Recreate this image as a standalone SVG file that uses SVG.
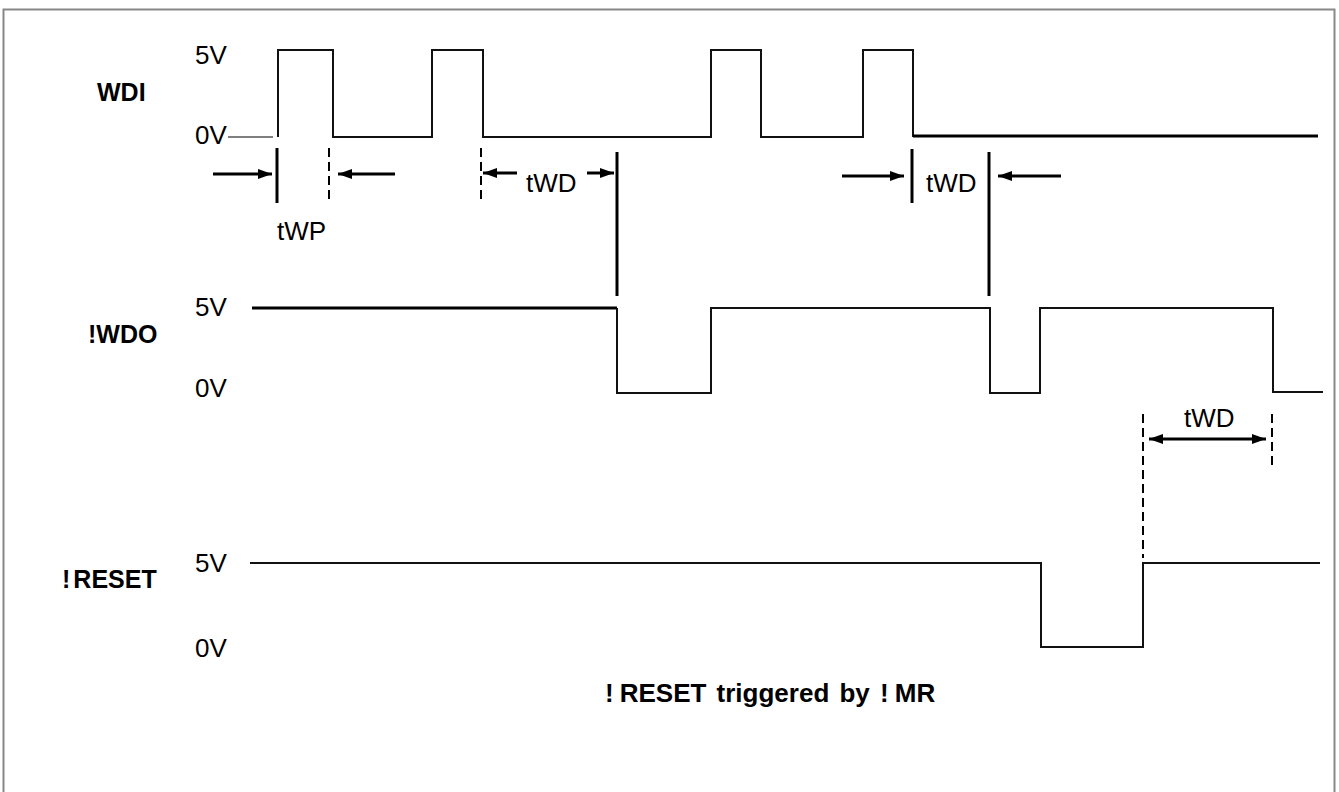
<svg xmlns="http://www.w3.org/2000/svg" width="1339" height="792" viewBox="0 0 1339 792">
<style>
.lbl{font-family:"Liberation Sans",Arial,sans-serif;font-size:26px;fill:#000}
.bold{font-family:"Liberation Sans",Arial,sans-serif;font-size:25px;font-weight:bold;fill:#000}
.sig{fill:none;stroke:#111;stroke-width:2;stroke-linejoin:miter}
.thick{fill:none;stroke:#000;stroke-width:3}
.bar{stroke:#000;stroke-width:3}
.dash{stroke:#000;stroke-width:2;stroke-dasharray:9 5}
.arr{stroke:#000;stroke-width:3;fill:none}
</style>
<defs>
<marker id="ah" viewBox="0 0 14 10" refX="14" refY="5" markerWidth="14" markerHeight="10" orient="auto-start-reverse" markerUnits="userSpaceOnUse">
<path d="M0,0 L14,5 L0,10 z" fill="#000"/>
</marker>
</defs>
<rect x="3.5" y="9.5" width="1331" height="800" fill="#fff" stroke="#888" stroke-width="2"/>

<g id="wdi">
<text class="bold" x="97" y="101">WDI</text>
<text class="lbl" x="195" y="64">5V</text>
<text class="lbl" x="195" y="144">0V</text>
<line x1="228" y1="137" x2="273" y2="137" stroke="#555" stroke-width="1.5"/>
<path class="sig" d="M278,137 V50 H333 V137 H432 V50 H483 V137 H711 V50 H761 V137 H863 V50 H913 V137"/>
<line x1="913" y1="136" x2="1318" y2="136" class="thick"/>
</g>

<g id="wdo">
<text class="bold" x="88" y="343">!WDO</text>
<text class="lbl" x="195" y="316">5V</text>
<text class="lbl" x="195" y="397">0V</text>
<line x1="252" y1="308" x2="617" y2="308" class="thick"/>
<path class="sig" d="M617,308 V393 H711 V308 H990 V393 H1040 V308 H1273 V392 H1323"/>
</g>

<g id="reset">
<text class="bold" x="62" y="588">!<tspan dx="3">RESET</tspan></text>
<text class="lbl" x="195" y="572">5V</text>
<text class="lbl" x="195" y="657">0V</text>
<path class="sig" d="M250,563 H1041 V647 H1143 V563 H1320"/>
</g>

<g id="caption">
<text class="bold" x="605" y="702" style="font-size:26px;word-spacing:3px">!<tspan dx="6">RESET triggered by !</tspan><tspan dx="6">MR</tspan></text>
</g>

<g id="connectors">
<line class="bar" x1="277" y1="148" x2="277" y2="203"/>
<line class="dash" x1="329" y1="148" x2="329" y2="203"/>
<line class="dash" x1="481" y1="148" x2="481" y2="203"/>
<line class="arr" x1="213" y1="174" x2="272" y2="174" marker-end="url(#ah)"/>
<line class="arr" x1="395" y1="174" x2="338" y2="174" marker-end="url(#ah)"/>
<text class="lbl" x="277" y="240">tWP</text>

<line class="arr" x1="517" y1="173" x2="483" y2="173" marker-end="url(#ah)"/>
<line class="arr" x1="587" y1="173" x2="614" y2="173" marker-end="url(#ah)"/>
<text class="lbl" x="526" y="192">tWD</text>
<line class="bar" x1="617" y1="152" x2="617" y2="296"/>

<line class="bar" x1="912" y1="149" x2="912" y2="203"/>
<line class="bar" x1="989" y1="152" x2="989" y2="296"/>
<line class="arr" x1="842" y1="176" x2="904" y2="176" marker-end="url(#ah)"/>
<line class="arr" x1="1061" y1="176" x2="998" y2="176" marker-end="url(#ah)"/>
<text class="lbl" x="926" y="192">tWD</text>

<line class="dash" x1="1143" y1="414" x2="1143" y2="558"/>
<line class="dash" x1="1272" y1="414" x2="1272" y2="467"/>
<line class="arr" x1="1149" y1="439" x2="1266" y2="439" marker-start="url(#ah)" marker-end="url(#ah)"/>
<text class="lbl" x="1184" y="427">tWD</text>
</g>
</svg>
